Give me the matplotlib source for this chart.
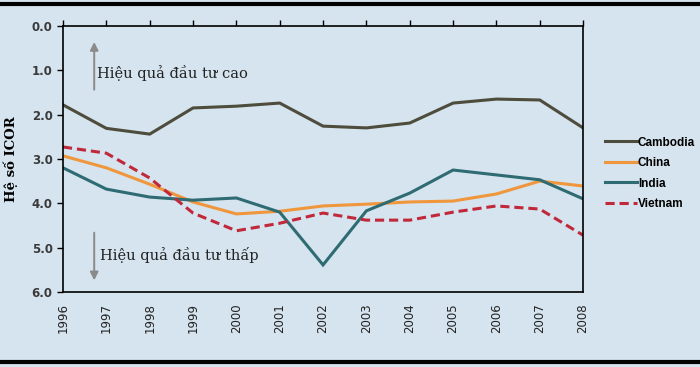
import numpy as np
import matplotlib.pyplot as plt
from matplotlib.lines import Line2D

years = list(range(1996, 2009))
cambodia = [1.78, 2.31, 2.44, 1.85, 1.81, 1.74, 2.26, 2.30, 2.19, 1.74, 1.65, 1.67, 2.30]
china = [2.93, 3.20, 3.57, 3.97, 4.24, 4.18, 4.06, 4.02, 3.97, 3.95, 3.79, 3.50, 3.61]
india = [3.20, 3.68, 3.86, 3.93, 3.88, 4.20, 5.39, 4.17, 3.77, 3.25, 3.36, 3.47, 3.90]
vietnam = [2.73, 2.87, 3.43, 4.22, 4.62, 4.45, 4.22, 4.38, 4.38, 4.20, 4.06, 4.13, 4.72]
series_names = ['Cambodia', 'China', 'India', 'Vietnam']
y_ticks = [0.0, 1.0, 2.0, 3.0, 4.0, 5.0, 6.0]

bg = '#d5e4ee'
fig = plt.figure(figsize=(7, 3.67), dpi=100, facecolor=bg)
ax = fig.add_axes([0.09, 0.2044, 0.743, 0.725])
ax.set_facecolor(bg)

styles = [
    dict(color='#4e4c3c', lw=2.2, ls='-'),
    dict(color='#f0963c', lw=2.2, ls='-'),
    dict(color='#2f6b72', lw=2.2, ls='-'),
    dict(color='#c1283a', lw=2.2, ls=(0, (3, 1.6))),
]
data = [cambodia, china, india, vietnam]
for vals, st in zip(data, styles):
    ax.plot(years, vals, **st, solid_joinstyle='miter')

ax.set_xlim(1996, 2008)
ax.set_ylim(6.0, 0.0)
ax.set_yticks(y_ticks)
ax.set_yticklabels(['%.1f' % v for v in y_ticks], fontsize=8.5, fontweight='bold', color='#3a3a3a')
ax.set_xticks(years)
ax.set_xticklabels([str(y) for y in years], rotation=90, fontsize=8.5, color='#222222')
ax.tick_params(axis='x', top=True, bottom=False, direction='out', length=4, pad=4, width=1)
ax.tick_params(axis='y', direction='out', length=4, width=1)
for s in ax.spines.values():
    s.set_linewidth(1.2)
    s.set_color('black')

ax.set_ylabel('Hệ số ICOR', fontsize=9.5, fontweight='bold', family='DejaVu Serif', labelpad=10)

# arrows and annotations
ax.annotate('', xy=(1996.72, 0.3), xytext=(1996.72, 1.5),
            arrowprops=dict(arrowstyle='-|>', color='#8a8a8a', lw=1.4, mutation_scale=12))
ax.text(1996.78, 1.07, 'Hiệu quả đầu tư cao', fontsize=10.5, family='DejaVu Serif', va='center', color='#222222')
ax.annotate('', xy=(1996.72, 5.8), xytext=(1996.72, 4.6),
            arrowprops=dict(arrowstyle='-|>', color='#8a8a8a', lw=1.4, mutation_scale=12))
ax.text(1996.85, 5.17, 'Hiệu quả đầu tư thấp', fontsize=10.5, family='DejaVu Serif', va='center', color='#222222')

handles = [Line2D([0], [0], **st) for st in styles]
leg = fig.legend(handles, series_names, loc='upper left', bbox_to_anchor=(0.864, 0.628),
                 frameon=False, handlelength=2.7, handletextpad=0.1, labelspacing=0.72,
                 borderpad=0, borderaxespad=0,
                 prop=dict(family='Liberation Sans', size=8.5, weight='bold'))

# black frame lines
fig.add_artist(Line2D([0, 1], [0.988, 0.988], color='black', lw=3, transform=fig.transFigure))
fig.add_artist(Line2D([0, 1], [0.013, 0.013], color='black', lw=3, transform=fig.transFigure))

fig.savefig('out.png', dpi=100, facecolor=bg)
